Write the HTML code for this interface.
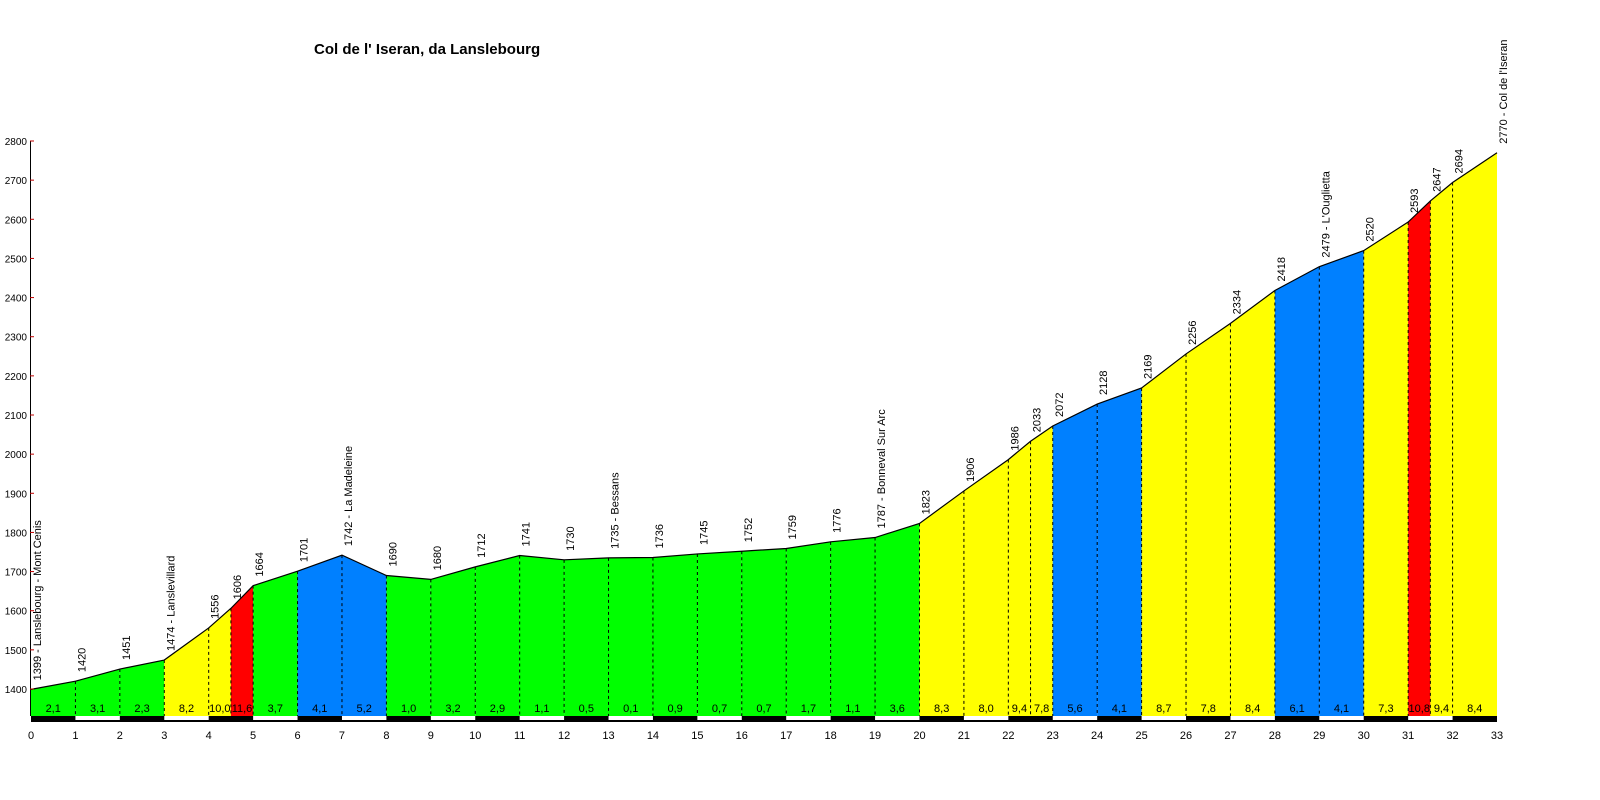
<!DOCTYPE html>
<html><head><meta charset="utf-8">
<style>
html,body{margin:0;padding:0;background:#fff;}
svg{display:block;font-family:"Liberation Sans",Arial,sans-serif;}
</style></head>
<body>
<svg id="chart" width="1600" height="800" viewBox="0 0 1600 800" xmlns="http://www.w3.org/2000/svg">
<rect x="0" y="0" width="1600" height="800" fill="#fff"/>
<text x="314" y="54" font-size="15" font-weight="bold" fill="#000">Col de l' Iseran, da Lanslebourg</text>
</svg>
<script>
const kms = [0,1,2,3,4,4.5,5,6,7,8,9,10,11,12,13,14,15,16,17,18,19,20,21,22,22.5,23,24,25,26,27,28,29,30,31,31.5,32,33];
const elevations = [1399,1420,1451,1474,1556,1606,1664,1701,1742,1690,1680,1712,1741,1730,1735,1736,1745,1752,1759,1776,1787,1823,1906,1986,2033,2072,2128,2169,2256,2334,2418,2479,2520,2593,2647,2694,2770];
const placeNames = {0:"Lanslebourg - Mont Cenis",3:"Lanslevillard",7:"La Madeleine",13:"Bessans",19:"Bonneval Sur Arc",29:"L'Ouglietta",33:"Col de l'Iseran"};
const gradients = ["2,1","3,1","2,3","8,2","10,0","11,6","3,7","4,1","5,2","1,0","3,2","2,9","1,1","0,5","0,1","0,9","0,7","0,7","1,7","1,1","3,6","8,3","8,0","9,4","7,8","5,6","4,1","8,7","7,8","8,4","6,1","4,1","7,3","10,8","9,4","8,4"];
const segColors = ["g","g","g","y","y","r","g","b","b","g","g","g","g","g","g","g","g","g","g","g","g","y","y","y","y","b","b","y","y","y","b","b","y","r","y","y"];
const yTicks = [1400,1500,1600,1700,1800,1900,2000,2100,2200,2300,2400,2500,2600,2700,2800];
const xTicks = [0,1,2,3,4,5,6,7,8,9,10,11,12,13,14,15,16,17,18,19,20,21,22,23,24,25,26,27,28,29,30,31,32,33];

const palette = {g:"#00ff00",y:"#ffff00",r:"#ff0000",b:"#0080ff"};
const X0=31, X1=1497, KMAX=33;
const Y0=689, Y1=141, E0=1400, E1=2800;
const BASE=716;
const sx = k => X0 + (X1-X0)*k/KMAX;
const sy = e => Y0 + (Y1-Y0)*(e-E0)/(E1-E0);
const svg = document.getElementById('chart');
const NS = "http://www.w3.org/2000/svg";
function mk(tag, attrs, parent){
  const el=document.createElementNS(NS,tag);
  for(const k in attrs) el.setAttribute(k,attrs[k]);
  (parent||svg).appendChild(el); return el;
}
for(let i=0;i<kms.length-1;i++){
  const xa=sx(kms[i]), xb=sx(kms[i+1]);
  const p=mk('polygon',{points:`${xa},${BASE} ${xa},${sy(elevations[i])} ${xb},${sy(elevations[i+1])} ${xb},${BASE}`,fill:palette[segColors[i]]});
  
  
  const t=mk('text',{x:(xa+xb)/2,y:712,'font-size':11,'text-anchor':'middle',fill:'#000'});
  
  
  t.textContent=gradients[i];
}
for(let i=1;i<kms.length-1;i++){
  const x=sx(kms[i]);
  const l=mk('line',{x1:x,y1:sy(elevations[i]),x2:x,y2:BASE,stroke:'#000','stroke-width':1,'stroke-dasharray':'3,3'});
  
  
}
const pl=mk('polyline',{points:kms.map((k,i)=>sx(k)+','+sy(elevations[i])).join(' '),fill:'none',stroke:'#000','stroke-width':1.2});


kms.forEach((k,i)=>{
  const x=sx(k)+10, y=sy(elevations[i])-9;
  const t=mk('text',{x:0,y:0,'font-size':11,fill:'#000',transform:`translate(${x},${y}) rotate(-90)`});
  
  
  t.textContent = elevations[i] + (placeNames[k]!==undefined ? ' - '+placeNames[k] : '');
});
const bar=mk('rect',{x:X0,y:BASE,width:X1-X0,height:6,fill:'#000'});


for(let k=1;k<KMAX;k+=2){
  const r=mk('rect',{x:sx(k),y:BASE,width:sx(k+1)-sx(k),height:4,fill:'#fff'});
  
  
}
xTicks.forEach(k=>{
  const t=mk('text',{x:sx(k),y:739,'font-size':11,'text-anchor':'middle',fill:'#000'});
  
  
  t.textContent=k;
});
const ax=mk('line',{x1:30.5,y1:Y1,x2:30.5,y2:BASE,stroke:'#000','stroke-width':1});


yTicks.forEach(e=>{
  const y=sy(e);
  const tk=mk('line',{x1:30,y1:y,x2:34,y2:y,stroke:'#c00000','stroke-width':1});
  
  
  const t=mk('text',{x:27,y:y+4,'font-size':10,'text-anchor':'end',fill:'#000'});
  
  
  t.textContent=e;
});
</script>
</body></html>
